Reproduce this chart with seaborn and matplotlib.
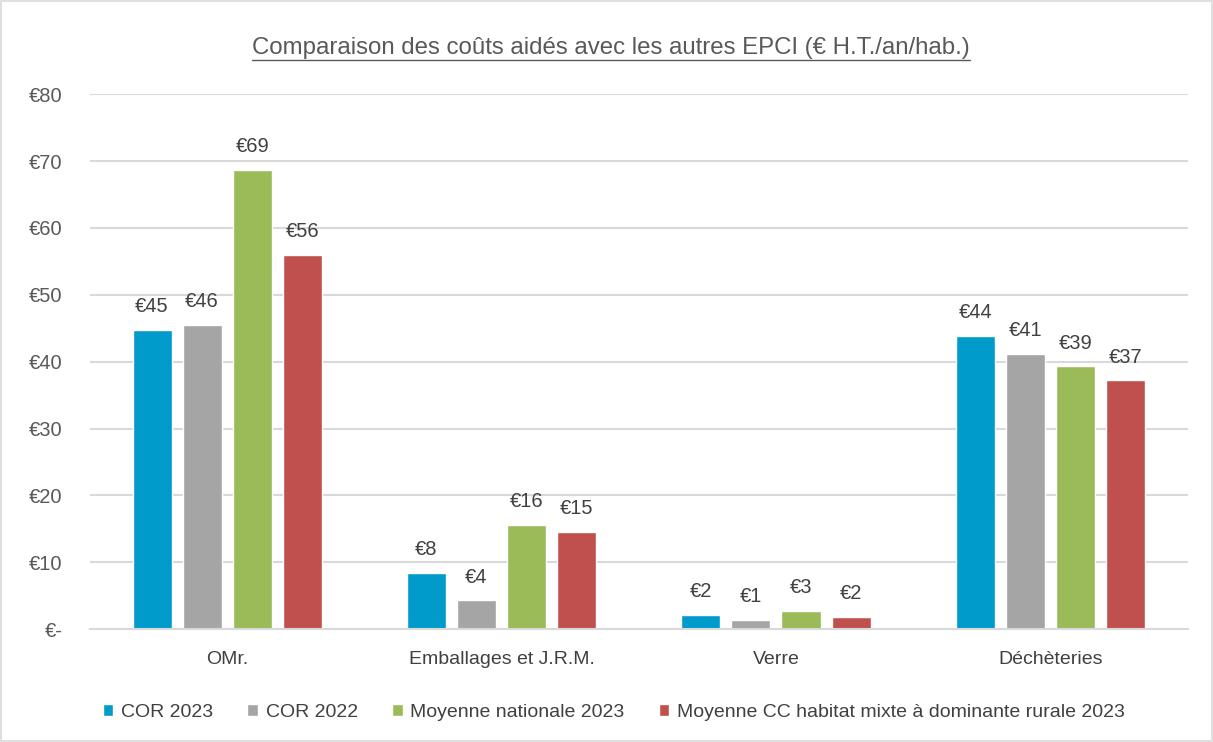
import matplotlib
matplotlib.use("Agg")
import matplotlib.pyplot as plt
from matplotlib.lines import Line2D
from matplotlib.patches import Rectangle
from matplotlib.ticker import FuncFormatter
import pandas as pd
import seaborn as sns

categories = ["OMr.", "Emballages et J.R.M.", "Verre", "Déchèteries"]
series = [
    "COR 2023",
    "COR 2022",
    "Moyenne nationale 2023",
    "Moyenne CC habitat mixte à dominante rurale 2023",
]
cor_2023 = [44.7, 8.4, 2.1, 43.8]
cor_2022 = [45.5, 4.3, 1.4, 41.2]
moyenne_nationale_2023 = [68.7, 15.6, 2.7, 39.3]
moyenne_cc_rurale_2023 = [56.0, 14.6, 1.8, 37.2]
colors = ["#009BCB", "#A5A5A5", "#9BBB59", "#C0504D"]
title = "Comparaison des coûts aidés avec les autres EPCI (€ H.T./an/hab.)"

values = [cor_2023, cor_2022, moyenne_nationale_2023, moyenne_cc_rurale_2023]
df = pd.DataFrame(
    [
        {"categorie": c, "serie": s, "cout": v}
        for s, vals in zip(series, values)
        for c, v in zip(categories, vals)
    ]
)

sns.set_theme(style="white")
plt.rcParams["font.family"] = ["Liberation Sans", "DejaVu Sans"]

text_dark = "#404040"
text_mid = "#595959"
grid_col = "#D9D9D9"

fig = plt.figure(figsize=(12.13, 7.42), dpi=100)
ax = fig.add_axes([0.0742, 0.152, 0.9048, 0.721])

sns.barplot(
    data=df, x="categorie", y="cout", hue="serie",
    order=categories, hue_order=series, palette=colors,
    width=0.73, gap=0.22, saturation=1, ax=ax, legend=True,
    errorbar=None,
)

for cont in ax.containers:
    ax.bar_label(cont, labels=[f"€{v:.0f}" for v in cont.datavalues],
                 padding=10, fontsize=14.5, color=text_dark)

ax.set_ylim(0, 80)
ax.set_xlim(-0.5, 3.5)
ax.set_yticks(range(0, 81, 10))
ax.yaxis.set_major_formatter(
    FuncFormatter(lambda v, _: "€-" if v == 0 else f"€{v:.0f}")
)
ax.grid(axis="y", color=grid_col, linewidth=1.5)
ax.set_axisbelow(True)
for side in ["left", "right", "top"]:
    ax.spines[side].set_visible(False)
ax.spines["bottom"].set_color(grid_col)
ax.spines["bottom"].set_linewidth(1.5)
ax.tick_params(axis="y", length=0, pad=20, labelsize=14.5, labelcolor=text_mid)
ax.tick_params(axis="x", length=0, pad=16, labelsize=14, labelcolor=text_dark)
ax.set_xlabel("")
ax.set_ylabel("")

handles, labels = ax.get_legend_handles_labels()
ax.legend(
    handles, labels, loc="center", bbox_to_anchor=(0.506, 0.040),
    bbox_transform=fig.transFigure, ncol=4,
    frameon=False, fontsize=14, handlelength=0.55, handleheight=0.55,
    handletextpad=0.4, columnspacing=1.75, labelcolor=text_dark,
)

t = fig.text(0.504, 0.935, title, ha="center", va="center",
             fontsize=17.3, color=text_mid)

# underline beneath the title
fig.canvas.draw()
bb = t.get_window_extent()
y_line = bb.y0 - 1
fig.add_artist(Line2D([bb.x0, bb.x1], [y_line, y_line],
                      transform=None, color=text_mid, linewidth=1.0))

# light frame around the chart area
fig.add_artist(Rectangle((0.001, 0.001), 0.998, 0.998, transform=fig.transFigure,
                         fill=False, edgecolor="#D9D9D9", linewidth=1.2))

fig.savefig("out.png", dpi=100)
